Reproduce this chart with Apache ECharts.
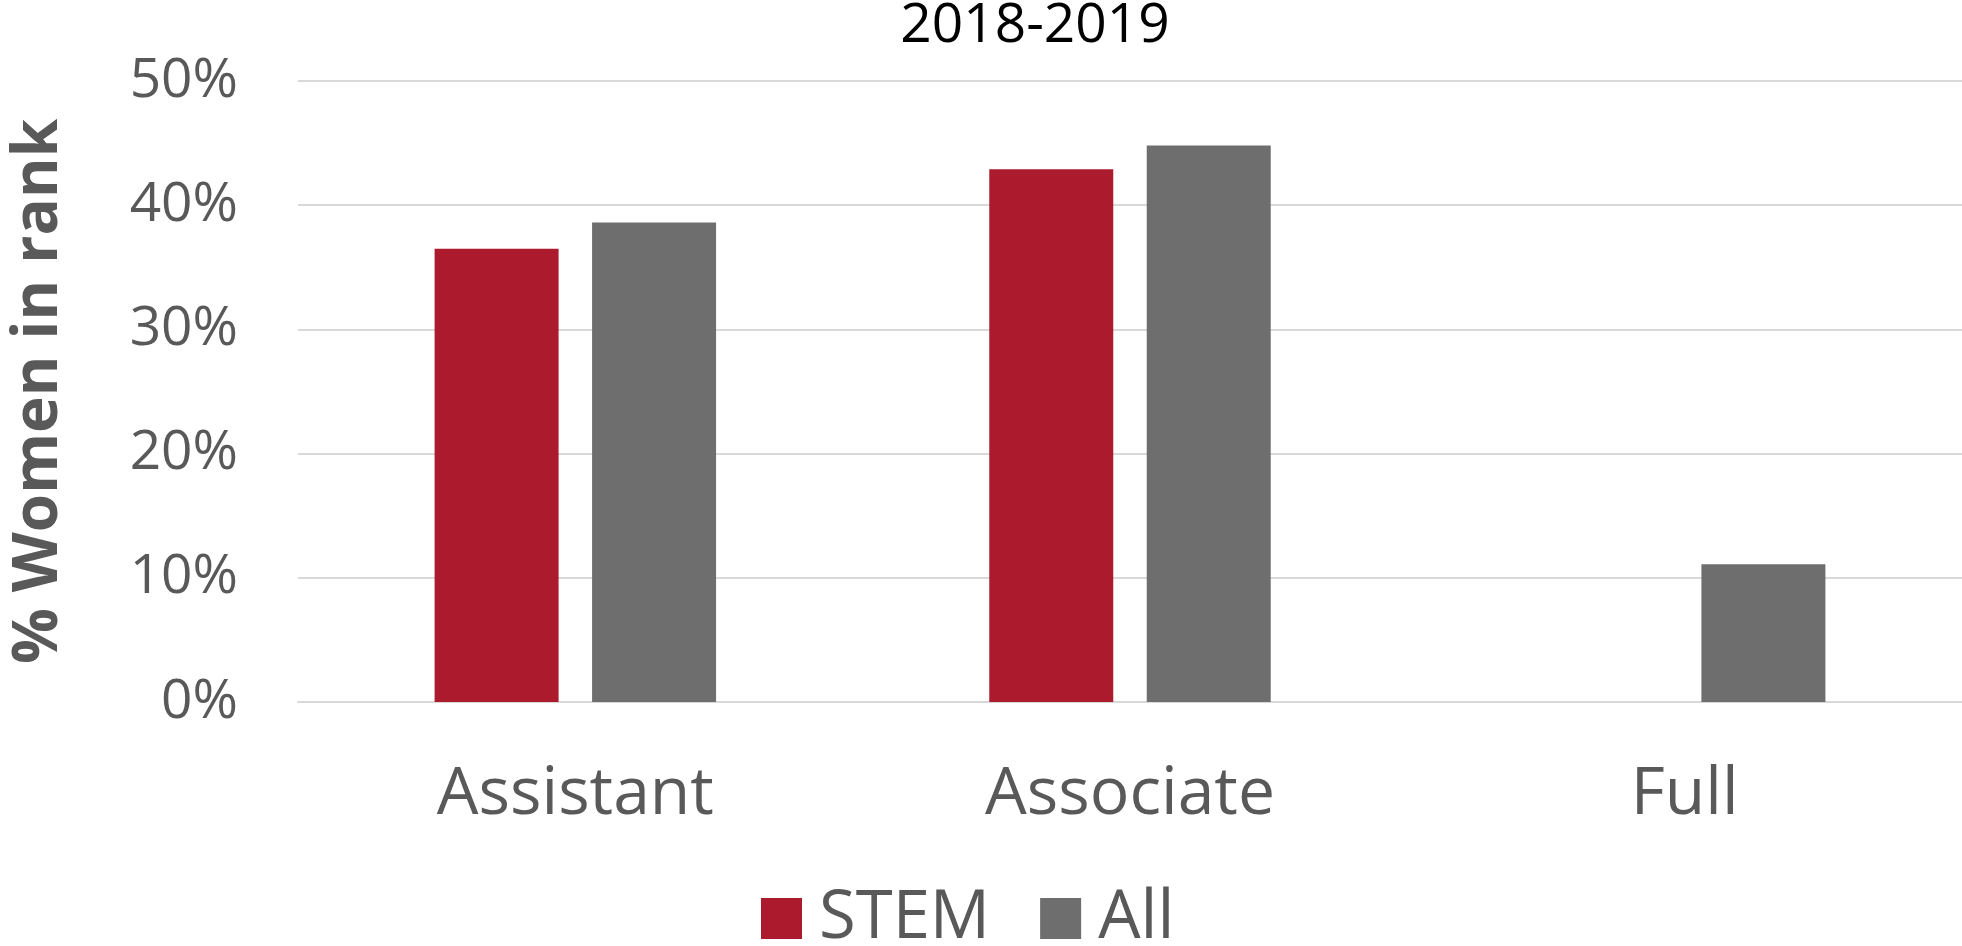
<!DOCTYPE html>
<html>
<head>
<meta charset="utf-8">
<script src="https://cdn.jsdelivr.net/npm/echarts@6/dist/echarts.min.js"></script>
<style>html,body{margin:0;padding:0;background:#fff}#c{width:1962px;height:946px}</style>
</head>
<body>
<div id="c"></div>
<script>
const categories = ['Assistant', 'Associate', 'Full'];
const stemValues = [36.5, 42.9, null];
const allValues = [38.6, 44.8, 11.1];
const seriesNames = ['STEM', 'All'];
const chartTitle = '2018-2019';
const yAxisTitle = '% Women in rank';

const chart = echarts.init(document.getElementById('c'));
const font = '"Open Sans", sans-serif';
chart.setOption({
  animation: false,
  title: {
    text: chartTitle,
    left: 1030, top: -6, textAlign: 'center',
    textStyle: { fontFamily: font, fontSize: 55, fontWeight: 'normal', color: '#000' }
  },
  legend: {
    data: seriesNames,
    left: 756, top: 880,
    icon: 'rect', itemWidth: 41, itemHeight: 41, itemGap: 50,
    textStyle: { fontFamily: font, fontSize: 67, color: '#595959', padding: [0, 0, 0, 12] }
  },
  grid: { left: 298, right: 0, top: 81, bottom: 244 },
  xAxis: {
    type: 'category', data: categories,
    axisLine: { lineStyle: { color: '#D9D9D9', width: 2 } },
    axisTick: { show: false },
    axisLabel: { fontFamily: font, fontSize: 66, color: '#595959', margin: 60 }
  },
  yAxis: {
    type: 'value', min: 0, max: 50, interval: 10,
    name: yAxisTitle, nameLocation: 'middle', nameGap: 228,
    nameTextStyle: { fontFamily: font, fontSize: 62, fontWeight: 'bold', color: '#595959' },
    axisLabel: { formatter: '{value}%', fontFamily: font, fontSize: 55, color: '#595959', margin: 60 },
    splitLine: { lineStyle: { color: '#D9D9D9', width: 2 } },
    axisLine: { show: false }, axisTick: { show: false }
  },
  series: [
    { name: seriesNames[0], type: 'bar', data: stemValues, barWidth: 124, barGap: '27%',
      itemStyle: { color: '#AB1A2D' } },
    { name: seriesNames[1], type: 'bar', data: allValues, barWidth: 124,
      itemStyle: { color: '#6E6E6E' } }
  ]
});
</script>
</body>
</html>
